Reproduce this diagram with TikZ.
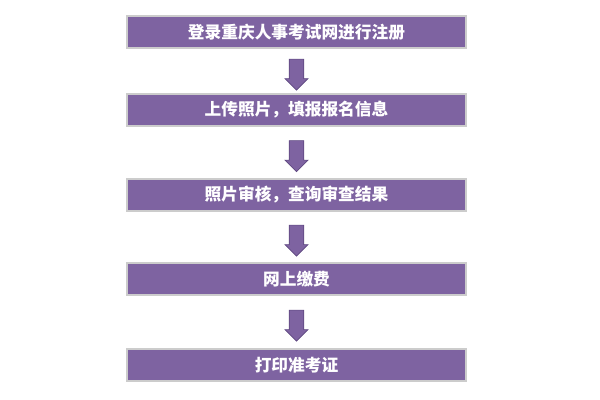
\documentclass[tikz,border=0pt]{standalone}
\usepackage{fontspec}
\newfontfamily\cjk{Noto Sans CJK SC}
\usetikzlibrary{shapes.arrows,positioning,calc}
\definecolor{stepFill}{HTML}{7E63A1}
\definecolor{stepEdge}{HTML}{5E4780}
\tikzset{
  stepbox/.style={draw=gray!40,line width=1pt,fill=stepFill,text=white,
    minimum width=6.78cm,minimum height=0.64cm,inner sep=0pt,
    font=\cjk\bfseries\fontsize{9.5}{11}\selectfont},
  downarrow/.style={single arrow,draw=stepEdge,fill=stepFill,shape border rotate=270,
    minimum width=0.46cm,single arrow head extend=0.08cm,minimum height=0.62cm,inner sep=0.13cm}
}
\begin{document}
\begin{tikzpicture}
\useasboundingbox (0,0) rectangle (12,8);
\node[stepbox] (s1) at (5.93,7.36) {登录重庆人事考试网进行注册};
\node[stepbox] (s2) at (5.93,5.80) {上传照片，填报报名信息};
\node[stepbox] (s3) at (5.93,4.10) {照片审核，查询审查结果};
\node[stepbox] (s4) at (5.93,2.42) {网上缴费};
\node[stepbox] (s5) at (5.93,0.70) {打印准考证};
% arrows between the steps
\node[downarrow] (a1) at ($(s1)!0.5!(s2)$) {};
\node[downarrow] (a2) at ($(s2)!0.5!(s3)$) {};
\node[downarrow] (a3) at ($(s3)!0.5!(s4)$) {};
\node[downarrow] (a4) at ($(s4)!0.5!(s5)$) {};
\end{tikzpicture}
\end{document}
